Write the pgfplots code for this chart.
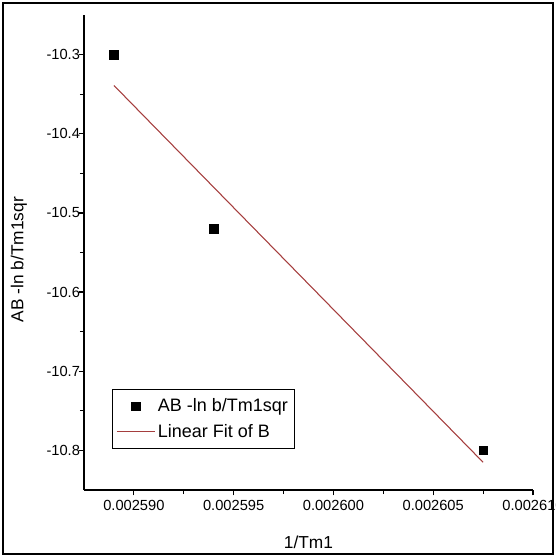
\documentclass[border=0pt]{standalone}
\usepackage{fontspec}
\setmainfont{Liberation Sans}
\usepackage{pgfplots}
\pgfplotsset{compat=1.18}
\definecolor{fitred}{RGB}{165,62,62}

\begin{document}
\begin{tikzpicture}
% page 556 x 557 px (1px = 0.75pt), axis box at origin
\useasboundingbox (-63pt,-50.25pt) rectangle (354pt,367.5pt);
\clip (-63pt,-50.25pt) rectangle (354pt,367.5pt);
\draw[line width=1.6pt] (-60.75pt,-48pt) rectangle (351.75pt,365.25pt);
\begin{axis}[
    scale only axis,
    width=336.75pt, height=356.25pt,
    xmin=0.0025875, xmax=0.00261,
    ymin=-10.85, ymax=-10.25,
    axis x line*=bottom, axis y line*=left,
    axis line style={line width=1.1pt},
    tick align=outside,
    tick style={black, line width=0.9pt},
    major tick length=4pt, minor tick length=3pt,
    scaled x ticks=false, scaled y ticks=false,
    xtick={0.00259,0.002595,0.0026,0.002605,0.00261},
    xticklabels={0.002590,0.002595,0.002600,0.002605,0.002610},
    ytick={-10.8,-10.7,-10.6,-10.5,-10.4,-10.3},
    yticklabels={-10.8,-10.7,-10.6,-10.5,-10.4,-10.3},
    minor x tick num=1, minor y tick num=1,
    ticklabel style={font=\fontsize{11}{13}\selectfont},
    yticklabel style={xshift=4.5pt},
    xlabel={1/Tm1}, ylabel={AB -ln b/Tm1sqr},
    label style={font=\fontsize{13}{15}\selectfont},
    xlabel style={at={(axis description cs:0.5,-0.11)}, anchor=center},
    ylabel style={at={(axis description cs:-0.145,0.485)}, anchor=center},
    legend style={at={(rel axis cs:0.062,0.086)}, anchor=south west,
        draw=black, line width=0.6pt, font=\fontsize{13.5}{16}\selectfont,
        cells={anchor=west}, inner xsep=3pt, inner ysep=5pt, row sep=4pt},
    legend image code/.code={\draw[mark repeat=2,mark phase=2,#1]
        plot coordinates {(0cm,0cm) (0.5cm,0cm) (1cm,0cm)};},
]
\addplot[only marks, mark=square*, mark size=3.2pt, black] coordinates {
    (0.002589,-10.30) (0.002594,-10.52) (0.0026075,-10.80)
};
\addlegendentry{AB -ln b/Tm1sqr}
\addplot[fitred, line width=0.8pt] coordinates {
    (0.002589,-10.339) (0.0026075,-10.815)
};
\addlegendentry{Linear Fit of B}
\end{axis}
\end{tikzpicture}
\end{document}
